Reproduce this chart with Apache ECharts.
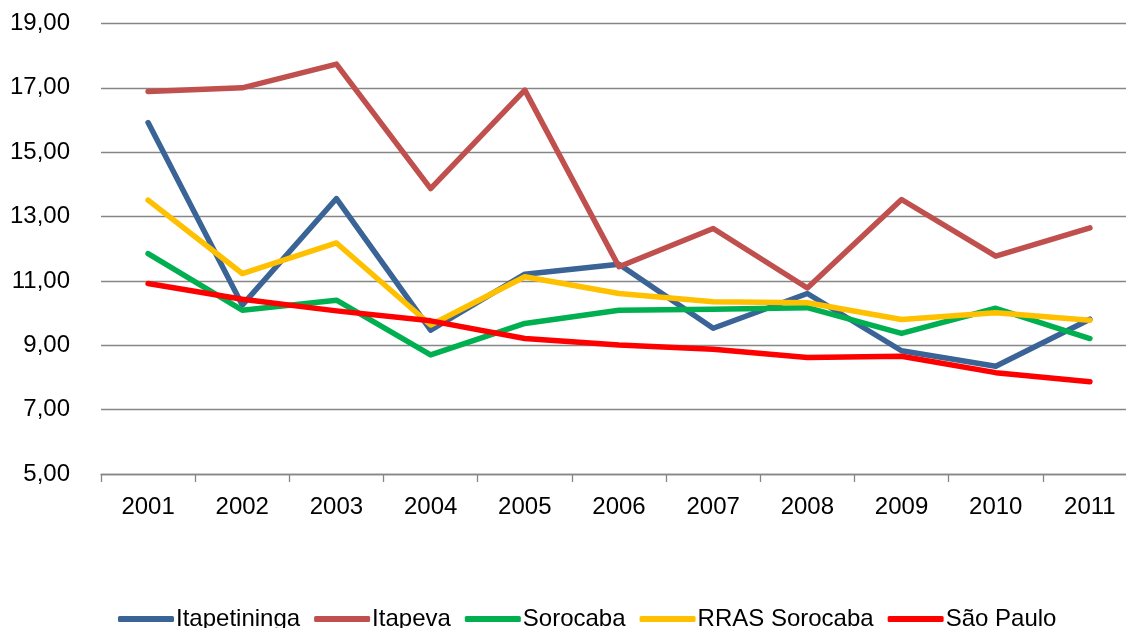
<!DOCTYPE html>
<html>
<head>
<meta charset="utf-8">
<script src="https://cdn.jsdelivr.net/npm/echarts@6/dist/echarts.min.js"></script>
<style>html,body{margin:0;padding:0;background:#fff;}#c{width:1126px;height:628px;}</style>
</head>
<body>
<div id="c"></div>
<script>
const categories = ['2001','2002','2003','2004','2005','2006','2007','2008','2009','2010','2011'];
const itapetininga = [15.92, 10.25, 13.56, 9.47, 11.21, 11.52, 9.53, 10.61, 8.83, 8.35, 9.81];
const itapeva = [16.89, 17.00, 17.74, 13.87, 16.93, 11.44, 12.63, 10.78, 13.53, 11.77, 12.65];
const sorocaba = [11.85, 10.09, 10.40, 8.70, 9.68, 10.09, 10.12, 10.17, 9.37, 10.15, 9.21];
const rrasSorocaba = [13.51, 11.23, 12.18, 9.63, 11.13, 10.61, 10.35, 10.32, 9.80, 10.01, 9.78];
const saoPaulo = [10.92, 10.43, 10.07, 9.76, 9.21, 9.01, 8.88, 8.62, 8.66, 8.15, 7.87];
const seriesNames = ['Itapetininga','Itapeva','Sorocaba','RRAS Sorocaba','São Paulo'];

const colors = ['#3A6396','#C0504D','#00B050','#FFC000','#FF0000'];
const data = [itapetininga, itapeva, sorocaba, rrasSorocaba, saoPaulo];
const font = '"Liberation Sans", Arial, sans-serif';

const chart = echarts.init(document.getElementById('c'), null, {renderer:'canvas'});
chart.setOption({
  animation: false,
  color: colors,
  grid: {left: 101, top: 23.5, right: -11, bottom: 154, containLabel: false, outerBoundsMode: 'none'},
  legend: {
    left: 113, top: 602,
    itemWidth: 56, itemHeight: 6, itemGap: 14,
    icon: 'roundRect',
    textStyle: {fontFamily: font, fontSize: 24, color: '#000', padding: [0,0,0,-3]},
    data: seriesNames
  },
  xAxis: {
    type: 'category',
    data: categories,
    boundaryGap: true,
    axisLine: {lineStyle: {color: '#868686', width: 1.3}},
    axisTick: {show: true, length: 8, lineStyle: {color: '#868686', width: 1.3}},
    axisLabel: {fontFamily: font, fontSize: 24, color: '#000', margin: 21}
  },
  yAxis: {
    type: 'value',
    min: 5, max: 19, interval: 2,
    axisLine: {show: false},
    axisTick: {show: false},
    splitLine: {lineStyle: {color: '#868686', width: 1.3}},
    axisLabel: {fontFamily: font, fontSize: 24, color: '#000', margin: 31,
      formatter: v => v.toFixed(2).replace('.', ',')}
  },
  series: seriesNames.map((n, i) => ({
    name: n,
    type: 'line',
    data: data[i],
    symbol: 'none',
    lineStyle: {width: 5.5, color: colors[i], cap: 'round', join: 'round'},
    itemStyle: {color: colors[i]}
  }))
});
</script>
</body>
</html>
